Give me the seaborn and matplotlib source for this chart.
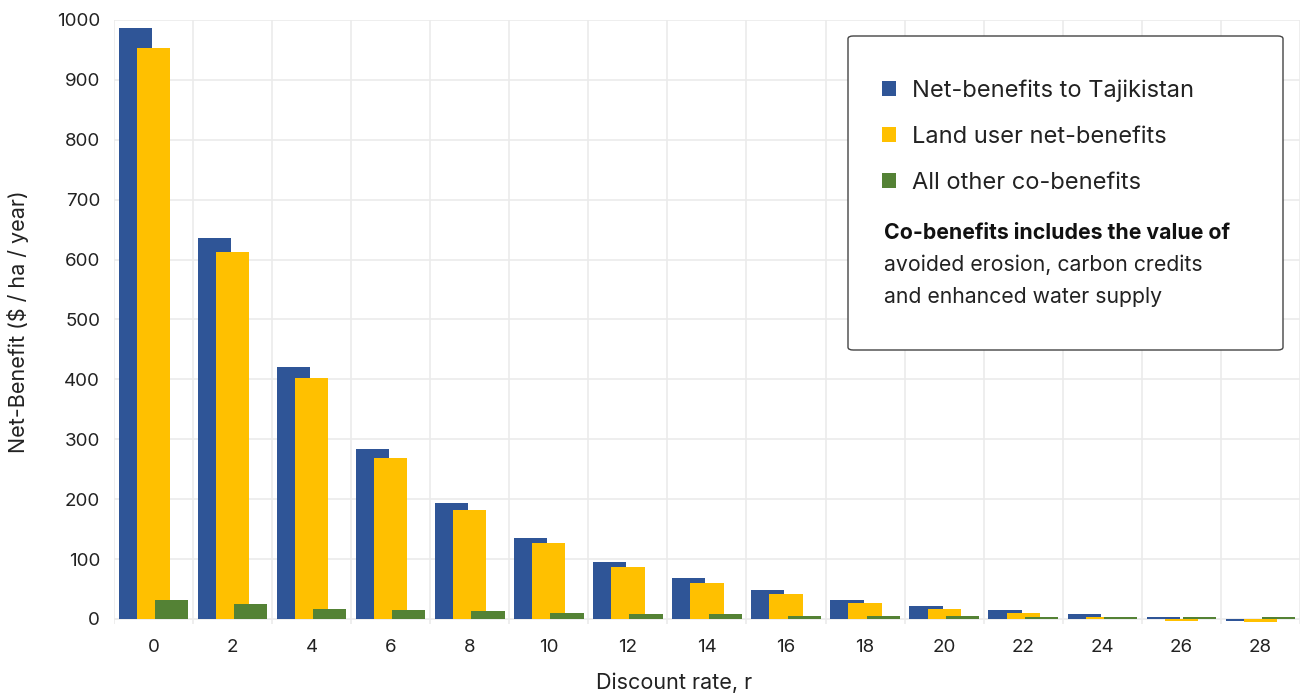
import numpy as np
import pandas as pd
import matplotlib
matplotlib.use("Agg")
import matplotlib.pyplot as plt
import seaborn as sns
from matplotlib.patches import FancyBboxPatch

# discount rates (x categories)
rates = [0, 2, 4, 6, 8, 10, 12, 14, 16, 18, 20, 22, 24, 26, 28]

# values ($ / ha / year)
tajikistan = [987, 636, 421, 284, 194, 135, 95, 68, 48, 32, 22, 15, 8, 3, -3]
land_user = [953, 613, 402, 269, 182, 127, 87, 60, 42, 27, 17, 10, 3, -3, -5]
co_benefits = [32, 25, 17, 15, 13, 10, 8, 8, 5, 5, 5, 3, 3, 3, 3]

series_names = ["Net-benefits to Tajikistan", "Land user net-benefits", "All other co-benefits"]
colors = ["#2F5597", "#FFC000", "#548235"]

df = pd.DataFrame({
    "rate": rates * 3,
    "value": tajikistan + land_user + co_benefits,
    "series": [series_names[0]] * len(rates) + [series_names[1]] * len(rates) + [series_names[2]] * len(rates),
})

sns.set_theme(style="white")
plt.rcParams["font.family"] = ["Inter", "DejaVu Sans"]

fig = plt.figure(figsize=(13.01, 6.94), dpi=100)
ax = fig.add_axes([0.0876, 0.1012, 0.9116, 0.8700])

sns.barplot(data=df, x="rate", y="value", hue="series", hue_order=series_names,
            palette=colors, width=0.69, dodge=True, saturation=1, ax=ax)

# widen the dodged bars so that they overlap like the original
for p in ax.patches:
    c = p.get_x() + p.get_width() / 2
    p.set_width(0.42)
    p.set_x(c - 0.21)
    p.set_linewidth(0)

handles, labels = ax.get_legend_handles_labels()
ax.get_legend().remove()

ax.set_xlim(-0.5, len(rates) - 0.5)
ax.set_ylim(-8, 1000)
ax.set_yticks(np.arange(0, 1001, 100))
ax.set_xticks(np.arange(-0.5, len(rates), 1), minor=True)
ax.grid(axis="y", which="major", color="#EBEBEB", linewidth=1.2)
ax.grid(axis="x", which="minor", color="#EBEBEB", linewidth=1.2)
ax.grid(axis="x", which="major", visible=False)
ax.set_axisbelow(True)
for s in ax.spines.values():
    s.set_visible(False)
ax.tick_params(axis="both", which="both", length=0, labelsize=13.5, colors="#222222")
ax.tick_params(axis="y", pad=10)
ax.tick_params(axis="x", pad=11)

ax.set_xlabel("Discount rate, r", fontsize=15.5, color="#222222")
ax.set_ylabel("Net-Benefit ($ / ha / year)", fontsize=15.5, color="#222222")
ax.xaxis.set_label_coords(0.472, -0.08)
ax.yaxis.set_label_coords(-0.072, 0.5)

# legend box
box = FancyBboxPatch((848 / 1301, 1 - 350 / 694), 435 / 1301, 314 / 694,
                     boxstyle="round,pad=0,rounding_size=0.004",
                     transform=fig.transFigure, facecolor="white",
                     edgecolor="#444444", linewidth=1.0, zorder=5)
fig.patches.append(box)

leg = fig.legend(handles, series_names, loc="upper left",
                 bbox_to_anchor=(882 / 1301, 1 - 79 / 694),
                 frameon=False, fontsize=17, handlelength=0.6, handleheight=0.6,
                 handletextpad=0.68, labelspacing=1.02, borderpad=0, borderaxespad=0)
leg.set_zorder(6)
for t in leg.get_texts():
    t.set_color("#222222")

fig.text(884 / 1301, 1 - 233 / 694, "Co-benefits includes the value of", fontsize=15.3,
         fontweight="bold", color="#111111", va="center", zorder=7)
fig.text(884 / 1301, 1 - 265 / 694, "avoided erosion, carbon credits", fontsize=15.3,
         color="#222222", va="center", zorder=7)
fig.text(884 / 1301, 1 - 297 / 694, "and enhanced water supply", fontsize=15.3,
         color="#222222", va="center", zorder=7)

fig.savefig("out.png", dpi=100)
